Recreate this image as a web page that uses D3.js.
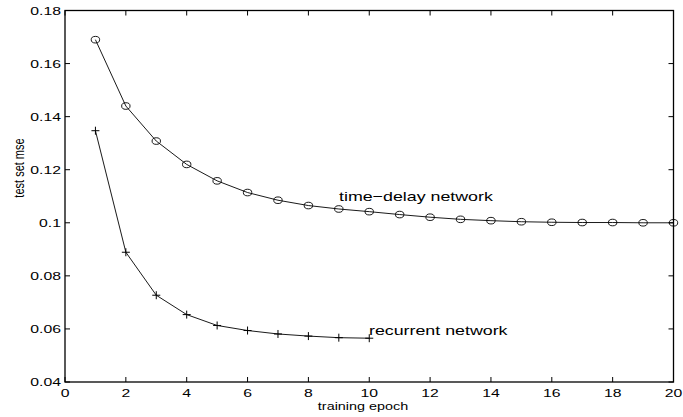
<!DOCTYPE html>
<html>
<head>
<meta charset="utf-8">
<script src="https://cdn.jsdelivr.net/npm/d3@7"></script>
<style>
  body { margin: 0; background: #fff; }
  text { font-family: "Liberation Sans", Arial, sans-serif; fill: #000; }
</style>
</head>
<body>
<svg id="chart" width="683" height="417"></svg>
<script>
// data
const epochs = [1, 2, 3, 4, 5, 6, 7, 8, 9, 10, 11, 12, 13, 14, 15, 16, 17, 18, 19, 20];
const timeDelayMse = [0.169, 0.144, 0.1308, 0.122, 0.1158, 0.1114, 0.1085, 0.1065, 0.1052, 0.1042,
                      0.1031, 0.1021, 0.1013, 0.1008, 0.1004, 0.1002, 0.1001, 0.1001, 0.1000, 0.1000];
const recurrentEpochs = [1, 2, 3, 4, 5, 6, 7, 8, 9, 10];
const recurrentMse = [0.1347, 0.0889, 0.0727, 0.0654, 0.0613, 0.0594, 0.0581, 0.0573, 0.0567, 0.0565];
const xTicks = [0, 2, 4, 6, 8, 10, 12, 14, 16, 18, 20];
const yTicks = [0.04, 0.06, 0.08, 0.1, 0.12, 0.14, 0.16, 0.18];

const svg = d3.select("#chart");
const axLeft = 65, axRight = 673.5, axTop = 10.5, axBottom = 382;
const stretch = 1.37; // figure text is horizontally stretched

const x = d3.scaleLinear().domain([0, 20]).range([axLeft, axRight]);
const y = d3.scaleLinear().domain([0.04, 0.18]).range([axBottom, axTop]);

function label(px, py, str, size, anchor, rot) {
    return svg.append("text")
        .attr("transform", `translate(${px},${py}) scale(${stretch},1)` + (rot ? ` rotate(${rot})` : ""))
        .attr("text-anchor", anchor)
        .style("font-size", size + "px")
        .text(str);
}

const tickLen = 5;
const g = svg.append("g").attr("stroke", "#000").attr("stroke-width", 1);
// ticks on all four sides, pointing inward
xTicks.forEach(t => {
    g.append("line").attr("x1", x(t)).attr("x2", x(t)).attr("y1", axBottom).attr("y2", axBottom - tickLen);
    g.append("line").attr("x1", x(t)).attr("x2", x(t)).attr("y1", axTop).attr("y2", axTop + tickLen);
    label(x(t), 397, t, 11.5, "middle");
});
yTicks.forEach(t => {
    g.append("line").attr("x1", axLeft).attr("x2", axLeft + tickLen).attr("y1", y(t)).attr("y2", y(t));
    g.append("line").attr("x1", axRight).attr("x2", axRight - tickLen).attr("y1", y(t)).attr("y2", y(t));
    label(61, y(t) + 4, String(+t.toFixed(2)), 11.5, "end");
});

svg.append("rect")
    .attr("x", axLeft).attr("y", axTop)
    .attr("width", axRight - axLeft).attr("height", axBottom - axTop)
    .attr("fill", "none").attr("stroke", "#000").attr("stroke-width", 1.3);

const line = d3.line().x(d => x(d[0])).y(d => y(d[1]));

const td = epochs.map((e, i) => [e, timeDelayMse[i]]);
const rc = recurrentEpochs.map((e, i) => [e, recurrentMse[i]]);

svg.append("path").attr("d", line(td)).attr("fill", "none").attr("stroke", "#000").attr("stroke-width", 0.9);
svg.append("path").attr("d", line(rc)).attr("fill", "none").attr("stroke", "#000").attr("stroke-width", 0.9);

svg.selectAll(".circ").data(td).join("ellipse")
    .attr("cx", d => x(d[0])).attr("cy", d => y(d[1]))
    .attr("rx", 4.2).attr("ry", 3.3)
    .attr("fill", "none").attr("stroke", "#000").attr("stroke-width", 0.9);

svg.selectAll(".plus").data(rc).join("path")
    .attr("d", d => {
        const cx = x(d[0]), cy = y(d[1]);
        return `M${cx - 4},${cy}H${cx + 4}M${cx},${cy - 4}V${cy + 4}`;
    })
    .attr("fill", "none").attr("stroke", "#000").attr("stroke-width", 1);

label(339, 201, "time\u2212delay network", 13, "start");
label(369, 335, "recurrent network", 13, "start");
label(363, 410, "training epoch", 10.5, "middle");
label(24, 168, "test set mse", 11, "middle", -90);
</script>
</body>
</html>
